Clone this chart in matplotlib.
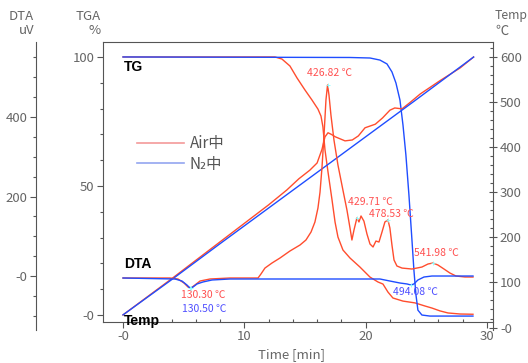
import matplotlib
matplotlib.use("Agg")
import matplotlib.pyplot as plt
from matplotlib.lines import Line2D
from matplotlib.ticker import MultipleLocator

plt.rcParams['font.family'] = ['Noto Sans CJK JP', 'DejaVu Sans']

RED = '#ff4d2e'
BLUE = '#1f4dff'
GRAY = '#666666'

# TG (%) - Air
tg_air_t = [0, 12.53, 13.1, 13.76, 14.34, 15.0, 15.58, 16.07, 16.32, 16.48, 16.65, 16.9,
            17.23, 17.48, 17.72, 18.13, 18.71, 19.53, 20.36, 21.02, 21.43, 21.84, 22.25,
            23.08, 24.07, 24.89, 25.47, 26.13, 26.79, 27.78, 28.85]
tg_air = [100, 100, 99.2, 96.5, 91.9, 87.2, 83.3, 79.8, 77.1, 72.9, 64, 55.4,
          44.6, 36, 30.2, 25.2, 22.1, 18.6, 14.7, 12.8, 12.0, 8.9, 6.6,
          5.4, 4.7, 3.5, 2.7, 1.6, 0.8, 0.4, 0.3]

# TG (%) - N2
tg_n2_t = [0, 10, 18.7, 20.36, 21.18, 21.76, 22.17, 22.5, 22.83, 23.08, 23.32, 23.57,
           23.82, 23.98, 24.15, 24.31, 24.64, 25.3, 28.85]
tg_n2 = [100, 99.9, 99.8, 99.6, 98.8, 97.3, 94.2, 89.9, 83.3, 73.6, 62, 46.5,
         29, 17.4, 7.8, 1.9, 0, -0.4, -0.4]

# DTA (uV) - Air
dta_air_t = [0, 3.87, 4.53, 5.03, 5.36, 5.6, 5.93, 6.35, 7.17, 8.82, 11.13, 11.37, 11.7,
             12.28, 12.94, 13.76, 14.59, 15.08, 15.5, 15.82, 16.07, 16.24, 16.4, 16.57,
             16.73, 16.86, 16.98, 17.14, 17.39, 17.72, 18.13, 18.46, 18.71, 18.87, 19.04,
             19.28, 19.45, 19.62, 19.86, 20.11, 20.36, 20.61, 20.85, 21.1, 21.35, 21.59,
             21.84, 22.0, 22.17, 22.34, 22.58, 23.0, 23.82, 24.64, 25.14, 25.55, 25.96,
             26.46, 26.95, 27.45, 28.19, 28.85]
dta_air = [-5, -5, -7.5, -17.6, -27.7, -30.2, -22.6, -12.6, -7.5, -5, -5, 5, 20,
           32.7, 45.3, 62.9, 78, 90.6, 110.7, 135.8, 171, 211, 272, 355,
           443, 480.5, 455, 405, 342, 279, 216, 166, 121, 90.6, 115.7,
           146, 136, 151, 138, 105.7, 80.5, 73, 88, 85.5, 110.7, 136,
           141, 120.8, 78, 40.3, 25.2, 20, 17.6, 22.6, 30.2, 32.7, 27.7,
           17.6, 7.5, 0, -2.5, -2.5]

# DTA (uV) - N2
dta_n2_t = [0, 4.29, 4.86, 5.27, 5.52, 5.77, 6.1, 6.59, 7.34, 8.82, 21.18, 22.0, 22.83,
            23.41, 23.74, 23.98, 24.31, 24.81, 25.47, 28.85]
dta_n2 = [-5, -7.5, -12.6, -22.6, -30.2, -27.7, -20, -15, -10, -7.5, -7.5, -12.6, -17.6,
          -20, -22.6, -20, -10, -2.5, 0, 0]

# Temperature (deg C)
temp_n2_t = [0, 4, 8, 12, 16, 20, 24, 28.9]
temp_n2 = [28, 106, 186, 265, 344, 423, 502, 600]
temp_air_t = [0, 4, 8, 12, 13.5, 14.5, 15.4, 16.0, 16.4, 16.65, 16.9, 17.2, 17.5, 18.3,
              18.9, 19.4, 19.95, 20.8, 21.4, 22.0, 22.4, 23.0, 23.7, 24.5, 26.1, 27.8, 28.9]
temp_air = [28, 108, 190, 272, 305, 330, 349, 365, 395, 423, 432, 428, 423, 414,
            416, 425, 443, 451, 465, 482, 487, 485, 500, 518, 547, 576, 600]

# peak markers and their labels
peaks_t = [16.86, 19.28, 21.84, 25.55, 5.6, 5.52, 23.74]
peaks_dta = [480.5, 146, 141, 32.7, -30.2, -30.2, -22.6]
peak_labels = ['426.82 ℃', '429.71 ℃', '478.53 ℃', '541.98 ℃', '130.30 ℃', '130.50 ℃', '494.08 ℃']
label_pos = [(17.06, 93.8), (20.36, 43.8), (22.1, 39.1), (25.8, 24.0), (6.6, 7.75), (6.68, 2.3), (24.07, 8.9)]
label_col = ['#ff5050', '#ff5050', '#ff5050', '#ff5050', '#ff5050', '#4f4fff', '#4f4fff']

W, H = 528, 363
fig = plt.figure(figsize=(W / 100, H / 100), dpi=100)


def rect(l, t, r, b):
    return [l / W, 1 - b / H, (r - l) / W, (b - t) / H]


ax = fig.add_axes(rect(103, 42, 493, 322))
ax_t = fig.add_axes(rect(103, 42, 493, 330), sharex=ax)
ax_d = fig.add_axes(rect(103, 42, 493, 330), sharex=ax)

ax.set_xlim(-1.65, 30.5)
ax.set_ylim(-2.7, 105.8)
ax_t.set_ylim(-5.5, 633.3)
ax_d.set_ylim(-135.8, 588.7)

for a in (ax_t, ax_d):
    a.patch.set_visible(False)
    for s in a.spines.values():
        s.set_visible(False)
    a.xaxis.set_visible(False)

ax.spines['right'].set_visible(False)
for s in ('left', 'bottom', 'top'):
    ax.spines[s].set_color('#555555')

ax_t.spines['right'].set_visible(True)
ax_t.spines['right'].set_color('#555555')
ax_t.yaxis.tick_right()
ax_d.spines['left'].set_visible(True)
ax_d.spines['left'].set_color('#555555')
ax_d.spines['left'].set_position(('axes', (36 - 103) / 390))

# curves
ax.plot(tg_air_t, tg_air, color=RED, lw=1.0)
ax.plot(tg_n2_t, tg_n2, color=BLUE, lw=1.0)
ax_d.plot(dta_air_t, dta_air, color=RED, lw=1.0)
ax_d.plot(dta_n2_t, dta_n2, color=BLUE, lw=1.0)
ax_t.plot(temp_air_t, temp_air, color=RED, lw=1.0)
ax_t.plot(temp_n2_t, temp_n2, color=BLUE, lw=1.0)
ax_d.plot(peaks_t, peaks_dta, ls='none', marker='+', ms=3, mew=0.6, color='#88ffff')

# ticks
ax.set_xticks([0, 10, 20, 30])
ax.set_xticklabels(['-0', '10', '20', '30'])
ax.xaxis.set_minor_locator(MultipleLocator(2))
ax.set_yticks([0, 50, 100])
ax.set_yticklabels(['-0', '50', '100'])
ax.yaxis.set_minor_locator(MultipleLocator(10))
ax_t.set_yticks(range(0, 601, 100))
ax_t.set_yticklabels(['-0'] + [str(v) for v in range(100, 601, 100)])
ax_t.yaxis.set_minor_locator(MultipleLocator(20))
ax_d.set_yticks([0, 200, 400])
ax_d.set_yticklabels(['-0', '200', '400'])
ax_d.yaxis.set_minor_locator(MultipleLocator(50))

for a in (ax, ax_t, ax_d):
    a.tick_params(which='both', colors='#555555', labelcolor=GRAY, labelsize=9.5, width=0.8)
    a.tick_params(which='major', length=4, direction='out', pad=2)
    a.tick_params(which='minor', length=2.5)
ax.tick_params(axis='x', which='minor', direction='in')
ax_t.tick_params(which='major', direction='inout', length=6)
ax_t.tick_params(which='minor', direction='in')


# axis titles
def ftext(x, y, s, size=9.5, **kw):
    fig.text(x / W, 1 - y / H, s, color=GRAY, fontsize=size, va='center', **kw)


ftext(34, 16, 'DTA', ha='right')
ftext(34, 31, 'uV', ha='right')
ftext(101, 16, 'TGA', ha='right')
ftext(101, 31, '%', ha='right')
ftext(495, 16, 'Temp', size=8.8, ha='left')
ftext(495, 31, '℃', ha='left')
ftext(292, 355, 'Time [min]', ha='center')

# curve names
bold = dict(fontsize=10, fontweight='bold', family='Liberation Sans', color='black', va='center')
ax.text(0.1, 96.3, 'TG', **bold)
ax.text(0.1, 19.6, 'DTA', **bold)
ax.text(0.1, -2.4, 'Temp', clip_on=False, **bold)

for (x, y), s, c in zip(label_pos, peak_labels, label_col):
    ax.text(x, y, s, color=c, fontsize=7.5, ha='center', va='center')

handles = [Line2D([], [], color='#f39a9a', lw=1.2), Line2D([], [], color='#93a6f0', lw=1.2)]
ax.legend(handles, ['Air中', 'N₂中'], loc='upper left', bbox_to_anchor=(137 / W, 1 - 135 / H),
          bbox_transform=fig.transFigure, frameon=False, fontsize=11, handlelength=3.1,
          handletextpad=0.35, labelspacing=0.25, borderpad=0, borderaxespad=0,
          labelcolor='#555555')

fig.savefig('out.png', dpi=100)
